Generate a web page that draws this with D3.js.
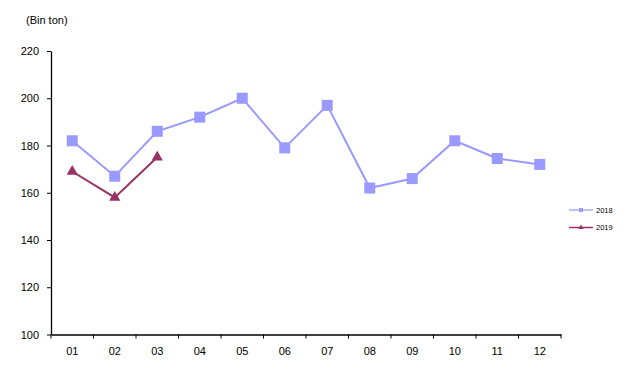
<!DOCTYPE html>
<html>
<head>
<meta charset="utf-8">
<script src="https://cdn.jsdelivr.net/npm/d3@7"></script>
<style>
    body { margin: 0; background: #fff; }
    text { font-family: "Liberation Sans", Arial, sans-serif; }
</style>
</head>
<body>
<div id="chart"></div>
<script>
// months on the x axis
var months = ["01", "02", "03", "04", "05", "06", "07", "08", "09", "10", "11", "12"];
// series values (thousand tons)
var values2018 = [182, 167, 186, 192, 200, 179, 197, 162, 166, 182, 174.5, 172];
var values2019 = [169, 158, 175];
var yTicks = [100, 120, 140, 160, 180, 200, 220];
var seriesNames = ["2018", "2019"];

var margin = {top: 51, right: 75, bottom: 53.5, left: 51},
    width = 636 - margin.left - margin.right,
    height = 388 - margin.top - margin.bottom;

var svg = d3.select("#chart")
    .append("svg")
    .attr("width", 636)
    .attr("height", 388)
    .append("g")
    .attr("transform", "translate(" + margin.left + "," + margin.top + ")");

var x = d3.scaleBand()
    .domain(months)
    .range([0, width]);

var y = d3.scaleLinear()
    .domain([100, 220])
    .range([height, 0]);

// axes
var xAxis = svg.append("g")
    .attr("transform", "translate(0," + height + ")")
    .call(d3.axisBottom(x).tickSize(0).tickPadding(13));
// boundary ticks between months
xAxis.selectAll(".sep")
    .data(d3.range(months.length + 1))
    .enter().append("line")
    .attr("class", "sep")
    .attr("x1", function (i) { return i * x.step(); })
    .attr("x2", function (i) { return i * x.step(); })
    .attr("y1", 0)
    .attr("y2", 4)
    .attr("stroke", "#000");

var yAxis = svg.append("g")
    .call(d3.axisLeft(y).tickValues(yTicks).tickSize(4).tickPadding(8).tickSizeOuter(0));

svg.selectAll(".domain").attr("stroke", "#000").attr("stroke-width", 1.3);
svg.selectAll(".tick line").attr("stroke", "#000");
svg.selectAll(".tick text").attr("font-size", 11).attr("fill", "#000")
    .attr("font-family", "'Liberation Sans', Arial, sans-serif");

// unit label
svg.append("text")
    .attr("x", -25)
    .attr("y", -27)
    .attr("font-size", 11)
    .text("(Bin ton)");

var line = d3.line()
    .x(function (d, i) { return x(months[i]) + x.bandwidth() / 2; })
    .y(function (d) { return y(d); });

// 2018
svg.append("path")
    .datum(values2018)
    .attr("fill", "none")
    .attr("stroke", "#9999ff")
    .attr("stroke-width", 2)
    .attr("d", line);
svg.selectAll(".m2018")
    .data(values2018)
    .enter().append("rect")
    .attr("class", "m2018")
    .attr("x", function (d, i) { return x(months[i]) + x.bandwidth() / 2 - 5.5; })
    .attr("y", function (d) { return y(d) - 5.5; })
    .attr("width", 11)
    .attr("height", 11)
    .attr("fill", "#9999ff");

// 2019
svg.append("path")
    .datum(values2019)
    .attr("fill", "none")
    .attr("stroke", "#993366")
    .attr("stroke-width", 2)
    .attr("d", line);
svg.selectAll(".m2019")
    .data(values2019)
    .enter().append("path")
    .attr("class", "m2019")
    .attr("transform", function (d, i) {
        return "translate(" + (x(months[i]) + x.bandwidth() / 2) + "," + y(d) + ")";
    })
    .attr("d", d3.symbol().type(d3.symbolTriangle).size(55))
    .attr("fill", "#993366");

// legend
var legend = svg.selectAll(".legend")
    .data(seriesNames)
    .enter().append("g")
    .attr("class", "legend")
    .attr("transform", function (d, i) {
        return "translate(" + (width + 8) + "," + (159 + i * 17.5) + ")";
    });
legend.append("line")
    .attr("x1", 0).attr("x2", 24)
    .attr("stroke", function (d, i) { return i === 0 ? "#9999ff" : "#993366"; })
    .attr("stroke-width", function (d, i) { return i === 0 ? 1.2 : 1.5; });
legend.append("path")
    .attr("transform", "translate(12,0)")
    .attr("d", function (d, i) {
        return d3.symbol().type(i === 0 ? d3.symbolSquare : d3.symbolTriangle).size(i === 0 ? 16 : 12)();
    })
    .attr("fill", function (d, i) { return i === 0 ? "#9999ff" : "#993366"; });
legend.append("text")
    .attr("x", 27)
    .attr("dy", "0.35em")
    .attr("font-size", 7.5)
    .text(function (d) { return d; });
</script>
</body>
</html>
